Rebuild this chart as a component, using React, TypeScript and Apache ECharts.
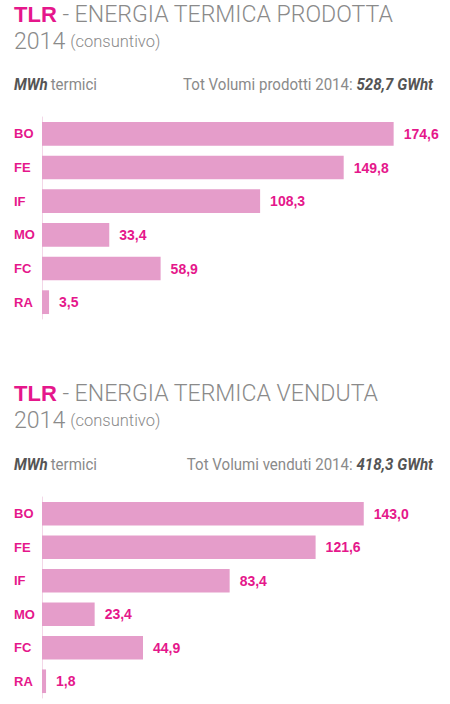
import React, { useEffect, useRef } from "react";
import * as echarts from "echarts";

const categories = ["BO", "FE", "IF", "MO", "FC", "RA"];
const producedValues = [174.6, 149.8, 108.3, 33.4, 58.9, 3.5];
const soldValues = [143.0, 121.6, 83.4, 23.4, 44.9, 1.8];
const producedTitle = "ENERGIA TERMICA PRODOTTA";
const soldTitle = "ENERGIA TERMICA VENDUTA";
const producedTotal = "528,7 GWht";
const soldTotal = "418,3 GWht";
const producedTotalLabel = "Tot Volumi prodotti 2014: ";
const soldTotalLabel = "Tot Volumi venduti 2014: ";

const MAGENTA = "#e5178b";
const BAR = "#e59dca";
const GREY = "#8a8a8a";
const DARK = "#555555";
const LIGHT_FONT = "Roboto, 'Liberation Sans', sans-serif";
const BOLD_FONT = "'Liberation Sans', Arial, sans-serif";
const COND_SCALE = 0.885;

const fmt = (v: number) => v.toFixed(1).replace(".", ",");

const titleRich = {
  a: { fontFamily: BOLD_FONT, fontWeight: "bold", fontSize: 22, color: MAGENTA, lineHeight: 26 },
  b: { fontFamily: LIGHT_FONT, fontWeight: 300, fontSize: 23.1, color: GREY, lineHeight: 26 },
  c: { fontFamily: LIGHT_FONT, fontWeight: 300, fontSize: 16.5, color: GREY, lineHeight: 26 },
};

const subRich = {
  d: { fontFamily: LIGHT_FONT, fontWeight: "bold", fontStyle: "italic", fontSize: 17, fill: DARK },
  e: { fontFamily: LIGHT_FONT, fontWeight: "normal", fontSize: 17, fill: GREY },
};

function titles(title: string, y0: number) {
  return [
    { text: `{a|TLR}{b| - ${title}}`, left: 14, top: y0, padding: 0, textStyle: { rich: titleRich } },
    { text: `{b|2014} {c|(consuntivo)}`, left: 14, top: y0 + 27, padding: 0, textStyle: { rich: titleRich } },
  ];
}

function subheaders(totalLabel: string, total: string, y: number) {
  return [
    {
      type: "text",
      x: 14,
      y,
      scaleX: COND_SCALE,
      style: { text: "{d|MWh} {e|termici}", rich: subRich, align: "left", verticalAlign: "middle" },
    },
    {
      type: "text",
      x: 433,
      y,
      scaleX: COND_SCALE,
      style: { text: `{e|${totalLabel}}{d|${total}}`, rich: subRich, align: "right", verticalAlign: "middle" },
    },
  ];
}

export default function App() {
  const ref = useRef<HTMLDivElement>(null);
  useEffect(() => {
    document.body.style.margin = "0";
    if (!ref.current) return;
    const chart = echarts.init(ref.current, undefined, { renderer: "svg" });
    const yAxisBase = {
      type: "category" as const,
      data: categories,
      inverse: true,
      axisLine: { show: true, lineStyle: { color: "#f3d6e7", width: 1 } },
      axisTick: { show: false },
      axisLabel: {
        align: "left" as const,
        margin: 28,
        color: MAGENTA,
        fontWeight: "bold" as const,
        fontSize: 13,
        fontFamily: BOLD_FONT,
      },
    };
    const barBase = {
      type: "bar" as const,
      barCategoryGap: "29.5%",
      itemStyle: { color: BAR },
      label: {
        show: true,
        position: "right" as const,
        distance: 10,
        color: MAGENTA,
        fontWeight: "bold" as const,
        fontSize: 14,
        fontFamily: BOLD_FONT,
        formatter: (p: any) => fmt(p.value),
      },
    };
    chart.setOption({
      animation: false,
      backgroundColor: "#ffffff",
      title: [...titles(producedTitle, 1), ...titles(soldTitle, 380)],
      graphic: [
        ...subheaders(producedTotalLabel, producedTotal, 84),
        ...subheaders(soldTotalLabel, soldTotal, 464),
      ],
      grid: [
        { left: 42, top: 117, width: 402.8, height: 202 },
        { left: 42, top: 497, width: 405, height: 201 },
      ],
      xAxis: [
        { type: "value", gridIndex: 0, min: 0, max: 200, show: false },
        { type: "value", gridIndex: 1, min: 0, max: 180, show: false },
      ],
      yAxis: [
        { ...yAxisBase, gridIndex: 0 },
        { ...yAxisBase, gridIndex: 1 },
      ],
      series: [
        { ...barBase, xAxisIndex: 0, yAxisIndex: 0, data: producedValues },
        { ...barBase, xAxisIndex: 1, yAxisIndex: 1, data: soldValues },
      ],
    });
    return () => chart.dispose();
  }, []);
  return <div ref={ref} style={{ width: 450, height: 704 }} />;
}
